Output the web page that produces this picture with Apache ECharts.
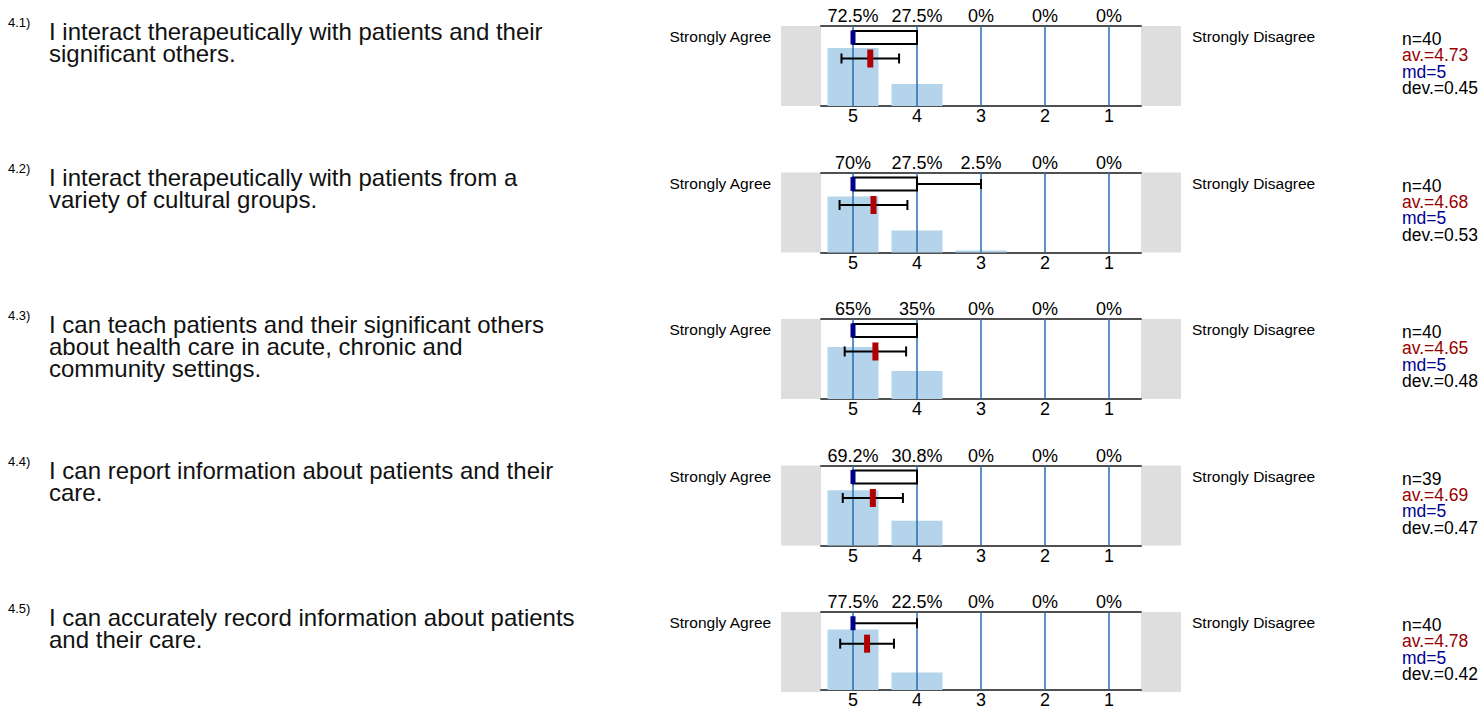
<!DOCTYPE html>
<html><head><meta charset="utf-8">
<script src="https://cdn.jsdelivr.net/npm/echarts@6/dist/echarts.min.js"></script>
<style>html,body{margin:0;padding:0;background:#fff}#c{width:1481px;height:709px}</style>
</head><body><div id="c"></div>
<script>
// ---- data ----
const scaleValues = [5, 4, 3, 2, 1];
const questionNumbers = ['4.1)', '4.2)', '4.3)', '4.4)', '4.5)'];
const questionTexts = [
  ['I interact therapeutically with patients and their', 'significant others.'],
  ['I interact therapeutically with patients from a', 'variety of cultural groups.'],
  ['I can teach patients and their significant others', 'about health care in acute, chronic and', 'community settings.'],
  ['I can report information about patients and their', 'care.'],
  ['I can accurately record information about patients', 'and their care.']
];
const pctQ1 = [72.5, 27.5, 0, 0, 0];
const pctQ2 = [70, 27.5, 2.5, 0, 0];
const pctQ3 = [65, 35, 0, 0, 0];
const pctQ4 = [69.2, 30.8, 0, 0, 0];
const pctQ5 = [77.5, 22.5, 0, 0, 0];
const percentages = [pctQ1, pctQ2, pctQ3, pctQ4, pctQ5];
const nValues = [40, 40, 40, 39, 40];
const avValues = [4.73, 4.68, 4.65, 4.69, 4.78];
const mdValues = [5, 5, 5, 5, 5];
const devValues = [0.45, 0.53, 0.48, 0.47, 0.42];
// box: [min, q1, median, q3, max]
const boxQ1 = [4, 4, 5, 5, 5];
const boxQ2 = [3, 4, 5, 5, 5];
const boxQ3 = [4, 4, 5, 5, 5];
const boxQ4 = [4, 4, 5, 5, 5];
const boxQ5 = [4, 5, 5, 5, 5];
const boxes = [boxQ1, boxQ2, boxQ3, boxQ4, boxQ5];
const leftLabel = 'Strongly Agree';
const rightLabel = 'Strongly Disagree';

// ---- layout ----
const FONT = '"Liberation Sans", Arial, Helvetica, sans-serif';
const ROW0 = 26, ROWSTEP = 146.5, PLOT_L = 821, PLOT_W = 320, PLOT_H = 80;
const BOX_Y = 85.6, MEAN_Y = 59.4;

const chart = echarts.init(document.getElementById('c'), null, {renderer: 'svg'});
const grid = [], xAxis = [], yAxis = [], series = [], title = [], graphic = [];
const isInt = v => Math.abs(v - Math.round(v)) < 1e-6;

function boxRender(params, api) {
  const mn = api.value(0), q1 = api.value(1), md = api.value(2), q3 = api.value(3), mx = api.value(4);
  const y = api.coord([md, BOX_Y])[1];
  const X = v => api.coord([v, BOX_Y])[0];
  const h = 13, cap = 10, ch = [];
  const ls = {stroke: '#000', lineWidth: 2};
  if (mn !== q1) {
    ch.push({type: 'line', shape: {x1: X(q1), y1: y, x2: X(mn), y2: y}, style: ls});
    ch.push({type: 'line', shape: {x1: X(mn), y1: y - cap / 2, x2: X(mn), y2: y + cap / 2}, style: ls});
  }
  if (mx !== q3) {
    ch.push({type: 'line', shape: {x1: X(q3), y1: y, x2: X(mx), y2: y}, style: ls});
    ch.push({type: 'line', shape: {x1: X(mx), y1: y - cap / 2, x2: X(mx), y2: y + cap / 2}, style: ls});
  }
  if (q1 !== q3) {
    const a = X(q1), b = X(q3);
    ch.push({type: 'rect', shape: {x: Math.min(a, b), y: y - h / 2, width: Math.abs(a - b), height: h}, style: {fill: '#fff', stroke: '#000', lineWidth: 2}});
  }
  ch.push({type: 'rect', shape: {x: X(md) - 2.5, y: y - h / 2 - 0.5, width: 5, height: h + 1}, style: {fill: '#000088'}});
  return {type: 'group', children: ch};
}
function meanRender(params, api) {
  const av = api.value(0), dv = api.value(1);
  const y = api.coord([av, MEAN_Y])[1];
  const X = v => api.coord([v, MEAN_Y])[0];
  const a = X(av + dv), b = X(av - dv), m = X(av);
  const cap = 10, ls = {stroke: '#000', lineWidth: 2};
  return {type: 'group', children: [
    {type: 'line', shape: {x1: a, y1: y, x2: b, y2: y}, style: ls},
    {type: 'line', shape: {x1: a, y1: y - cap / 2, x2: a, y2: y + cap / 2}, style: ls},
    {type: 'line', shape: {x1: b, y1: y - cap / 2, x2: b, y2: y + cap / 2}, style: ls},
    {type: 'rect', shape: {x: m - 3, y: y - 9, width: 6, height: 18}, style: {fill: '#b00000'}}
  ]};
}

for (let i = 0; i < 5; i++) {
  const top = ROW0 + ROWSTEP * i;
  const pct = percentages[i];
  grid.push({left: PLOT_L, top: top, width: PLOT_W, height: PLOT_H, containLabel: false});
  const axisCommon = {
    gridIndex: i, type: 'value', min: 0.5, max: 5.5, interval: 0.5, inverse: true,
    axisLine: {show: true, onZero: false, lineStyle: {color: '#505050', width: 2}},
    axisTick: {show: false}, splitLine: {show: false}
  };
  xAxis.push(Object.assign({}, axisCommon, {
    position: 'bottom',
    axisLabel: {fontSize: 18, color: '#000', margin: 1, fontFamily: FONT,
      formatter: v => isInt(v) ? String(Math.round(v)) : ''}
  }));
  xAxis.push(Object.assign({}, axisCommon, {
    position: 'top',
    axisLabel: {fontSize: 18, color: '#000', margin: 1, fontFamily: FONT,
      formatter: v => isInt(v) ? pct[5 - Math.round(v)] + '%' : ''}
  }));
  yAxis.push({gridIndex: i, type: 'value', min: 0, max: 100, show: false});

  series.push({
    type: 'bar', xAxisIndex: 2 * i, yAxisIndex: i, barWidth: 51, z: 1,
    itemStyle: {color: '#b4d4eb'},
    data: scaleValues.map((v, k) => [v, pct[k]]),
    markLine: {silent: true, symbol: ['none', 'none'], label: {show: false},
      lineStyle: {color: '#2a6db3', width: 1.5, type: 'solid'},
      emphasis: {disabled: true},
      data: scaleValues.map(v => ({xAxis: v}))}
  });
  series.push({type: 'custom', xAxisIndex: 2 * i, yAxisIndex: i, z: 5,
    renderItem: boxRender, data: [boxes[i]]});
  series.push({type: 'custom', xAxisIndex: 2 * i, yAxisIndex: i, z: 6,
    renderItem: meanRender, data: [[avValues[i], devValues[i]]]});

  graphic.push({type: 'rect', z: -10, shape: {x: 781, y: top, width: 40, height: PLOT_H}, style: {fill: '#dedede'}});
  graphic.push({type: 'rect', z: -10, shape: {x: 1141, y: top, width: 40, height: PLOT_H}, style: {fill: '#dedede'}});

  const ts = (size, lh, color) => ({fontSize: size, lineHeight: lh, color: color || '#000', fontWeight: 'normal', fontFamily: FONT});
  title.push({text: questionNumbers[i], left: 8, top: top - 10.5, padding: 0, textStyle: ts(13, 13)});
  title.push({text: questionTexts[i].join('\n'), left: 49, top: top - 6, padding: 0, textStyle: ts(24, 22, '#111')});
  title.push({text: leftLabel, right: 1481 - 772, top: top + 1.5, padding: 0, textStyle: ts(15.5, 18)});
  title.push({text: rightLabel, left: 1192, top: top + 1.5, padding: 0, textStyle: ts(15.5, 18)});
  title.push({
    text: `{n|n=${nValues[i]}}\n{av|av.=${avValues[i]}}\n{md|md=${mdValues[i]}}\n{dv|dev.=${devValues[i]}}`,
    left: 1402, top: top + 5, padding: 0,
    textStyle: Object.assign(ts(17.5, 16.3), {rich: {
      n: ts(17.5, 16.3, '#000'), av: ts(17.5, 16.3, '#960000'), md: ts(17.5, 16.3, '#00008f'), dv: ts(17.5, 16.3, '#000')
    }})
  });
}

chart.setOption({animation: false, backgroundColor: '#fff', title, grid, xAxis, yAxis, series, graphic});
</script></body></html>
